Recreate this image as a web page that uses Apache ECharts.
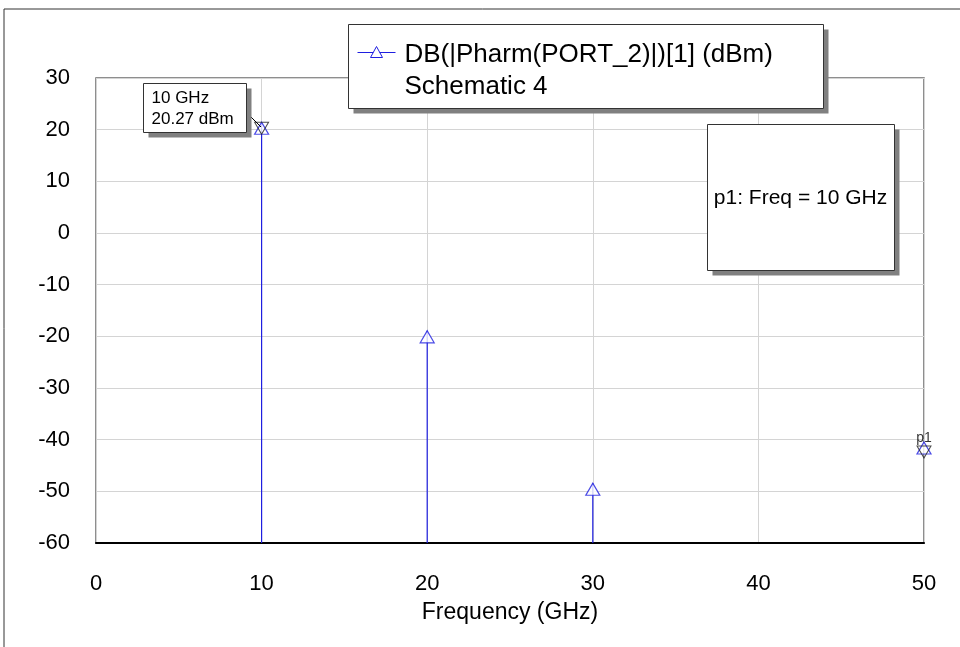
<!DOCTYPE html>
<html>
<head>
<meta charset="utf-8">
<script src="https://cdn.jsdelivr.net/npm/echarts@6/dist/echarts.min.js"></script>
<style>
  html, body { margin: 0; padding: 0; background: #fff; }
  #chart { width: 960px; height: 647px; }
</style>
</head>
<body>
<div id="chart"></div>
<script>
// harmonic spectrum data (GHz, dBm)
const freqGHz = [10, 20, 30, 50];
const pharmDbm = [20.27, -20.1, -49.6, -41.6];
const xTicks = [0, 10, 20, 30, 40, 50];
const yTicks = [-60, -50, -40, -30, -20, -10, 0, 10, 20, 30];
const markerFreq = [10, 50];
const markerDbm = [20.27, -42.4];

const FONT = '"Liberation Sans", Arial, sans-serif';
const BLUE = '#1f1fe0';
const X_MAX = xTicks[xTicks.length - 1];

const chart = echarts.init(document.getElementById('chart'));

const points = freqGHz.map((f, i) => [f, pharmDbm[i]]);
const markers = markerFreq.map((f, i) => [f, markerDbm[i]]);

// box with drop shadow
function shadowBox(x, y, w, h, children) {
  return {
    type: 'group',
    left: x, top: y, z: 50,
    children: [
      { type: 'rect', shape: { x: 5, y: 5, width: w, height: h }, style: { fill: '#808080' }, z: 50 },
      { type: 'rect', shape: { x: 0, y: 0, width: w, height: h }, style: { fill: '#fff', stroke: '#333', lineWidth: 1 }, z: 51 }
    ].concat(children.map(c => Object.assign({ z: 52 }, c)))
  };
}

const option = {
  animation: false,
  grid: {
    left: 96, right: 36, top: 78, bottom: 104,
    show: true, borderColor: '#6a6a6a', borderWidth: 1.5
  },
  xAxis: {
    type: 'value',
    min: xTicks[0], max: X_MAX, interval: 10,
    name: 'Frequency (GHz)', nameLocation: 'middle', nameGap: 58,
    nameTextStyle: { fontFamily: FONT, fontSize: 23, color: '#000' },
    axisLine: { show: true, onZero: false, lineStyle: { color: '#000', width: 2 } },
    axisTick: { show: false },
    axisLabel: { fontFamily: FONT, fontSize: 22, color: '#000', margin: 30 },
    splitLine: { lineStyle: { color: '#d4d4d4', width: 1 } }
  },
  yAxis: {
    type: 'value',
    min: yTicks[0], max: yTicks[yTicks.length - 1], interval: 10,
    axisLine: { show: false },
    axisTick: { show: false },
    axisLabel: { fontFamily: FONT, fontSize: 22, color: '#000', margin: 26 },
    splitLine: { lineStyle: { color: '#d4d4d4', width: 1 } }
  },
  series: [
    {
      // stems from each harmonic down to the bottom of the plot
      type: 'custom',
      data: points,
      z: 2,
      renderItem: function (params, api) {
        if (api.value(0) >= X_MAX) return null; // hidden under the plot border
        const top = api.coord([api.value(0), api.value(1)]);
        const bot = api.coord([api.value(0), yTicks[0]]);
        return {
          type: 'line',
          shape: { x1: top[0], y1: top[1] - 6, x2: bot[0], y2: bot[1] },
          style: { stroke: BLUE, lineWidth: 1.2 }
        };
      }
    },
    {
      type: 'scatter',
      data: points,
      symbol: 'triangle',
      symbolSize: [14, 12],
      itemStyle: { color: '#fff', borderColor: BLUE, borderWidth: 1.2 },
      z: 3
    },
    {
      // marker p1
      type: 'scatter',
      data: markers,
      symbol: 'triangle',
      symbolRotate: 180,
      symbolSize: [14, 12],
      symbolOffset: [[0, 1], [3, 0]],
      itemStyle: { color: 'rgba(0,0,0,0)', borderColor: '#222', borderWidth: 1 },
      z: 4,
      label: {
        show: true,
        formatter: function (p) { return p.dataIndex === 1 ? 'p1' : ''; },
        position: 'top', distance: 0,
        fontFamily: FONT, fontSize: 14, color: '#000'
      }
    }
  ],
  graphic: [
    // outer frame
    { type: 'rect', shape: { x: 4, y: 9, width: 960, height: 660 }, style: { fill: 'none', stroke: '#333', lineWidth: 1 }, z: -10 },
    // legend
    shadowBox(348, 24, 475, 84, [
      { type: 'line', shape: { x1: 9, y1: 28, x2: 47, y2: 28 }, style: { stroke: BLUE, lineWidth: 1 } },
      { type: 'polygon', shape: { points: [[28, 22], [22, 33], [34, 33]] }, style: { fill: '#fff', stroke: BLUE, lineWidth: 1 } },
      { type: 'text', x: 56, y: 30, style: { text: 'DB(|Pharm(PORT_2)|)[1] (dBm)', font: '26px ' + FONT, fill: '#000', verticalAlign: 'middle' } },
      { type: 'text', x: 56, y: 62, style: { text: 'Schematic 4', font: '26px ' + FONT, fill: '#000', verticalAlign: 'middle' } }
    ]),
    // marker readout box
    shadowBox(707, 124, 187, 146, [
      { type: 'text', x: 93, y: 74, style: { text: 'p1: Freq = 10 GHz', font: '21px ' + FONT, fill: '#000', align: 'center', verticalAlign: 'middle' } }
    ]),
    // marker label connector
    { type: 'line', shape: { x1: 246, y1: 112, x2: 261, y2: 127 }, style: { stroke: '#000', lineWidth: 1 }, z: 5 },
    // marker label
    shadowBox(143, 83, 103, 49, [
      { type: 'text', x: 8, y: 15, style: { text: '10 GHz', font: '17px ' + FONT, fill: '#000', verticalAlign: 'middle' } },
      { type: 'text', x: 8, y: 36, style: { text: '20.27 dBm', font: '17px ' + FONT, fill: '#000', verticalAlign: 'middle' } }
    ])
  ]
};

chart.setOption(option);
</script>
</body>
</html>
